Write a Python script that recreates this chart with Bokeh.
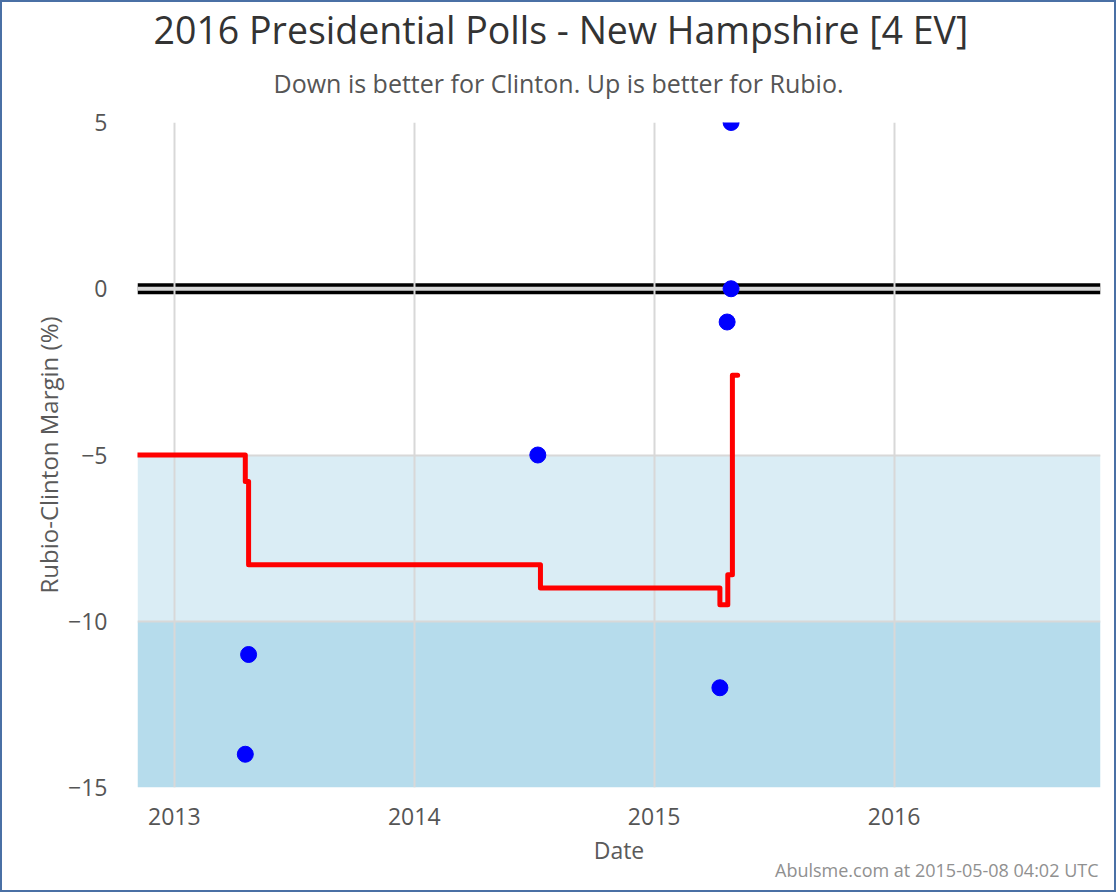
from datetime import datetime
from bokeh.plotting import figure
from bokeh.models import Range1d, FixedTicker, DatetimeTickFormatter, Span, BoxAnnotation, Title
from bokeh.embed import file_html
from bokeh.resources import INLINE

# ---- data ----
poll_dates = ["2013-04-19", "2013-04-24", "2014-07-08", "2015-04-11", "2015-04-22", "2015-04-28", "2015-04-28"]
poll_margins = [-14, -11, -5, -12, -1, 0, 5]

avg_dates = ["2012-11-06", "2013-04-19", "2013-04-24", "2014-07-12", "2015-04-11", "2015-04-23", "2015-04-30", "2015-05-08"]
avg_margins = [-5.0, -5.8, -8.3, -9.0, -9.5, -8.6, -2.6, -2.6]

x_start, x_end = "2012-11-06", "2016-11-10"
year_ticks = [2013, 2014, 2015, 2016]
y_ticks = [-15, -10, -5, 0, 5]
band_edges = [(-10, -5, "#daedf5"), (-15, -10, "#b6dcec")]

title_text = "2016 Presidential Polls - New Hampshire [4 EV]"
subtitle_text = "Down is better for Clinton. Up is better for Rubio."
footer_text = "Abulsme.com at 2015-05-08 04:02 UTC"


def d(s):
    return datetime.strptime(s, "%Y-%m-%d")


FONT = "Open Sans"

p = figure(width=1116, height=892, x_axis_type="datetime",
           x_range=Range1d(d(x_start), d(x_end)), y_range=Range1d(-15, 5),
           output_backend="svg", toolbar_location=None,
           min_border_left=135, min_border_right=18, min_border_top=120, min_border_bottom=107,
           background_fill_color="white", border_fill_color="white", outline_line_color=None,
           styles={"border": "2px solid #4a70a5"})

for lo, hi, col in band_edges:
    p.add_layout(BoxAnnotation(bottom=lo, top=hi, fill_color=col, fill_alpha=1.0,
                               line_color=None, level="image"))
p.add_layout(Span(location=0, dimension="width", line_color="black", line_width=11, level="image"))
p.add_layout(Span(location=0, dimension="width", line_color="#d6d6d6", line_width=4, level="image"))

xt = [d(f"{y}-01-01").timestamp() * 1000 for y in year_ticks]
p.xaxis.ticker = FixedTicker(ticks=xt)
p.xgrid.ticker = FixedTicker(ticks=xt)
p.xaxis.formatter = DatetimeTickFormatter(years="%Y", months="%Y", days="%Y", hours="%Y")
p.yaxis.ticker = FixedTicker(ticks=y_ticks)
p.ygrid.ticker = FixedTicker(ticks=y_ticks)
p.yaxis.major_label_overrides = {t: str(t).replace("-", "\u2212") for t in y_ticks}

for g in (p.xgrid, p.ygrid):
    g.grid_line_color = "#d8d8d8"
    g.grid_line_width = 2

for ax in (p.xaxis, p.yaxis):
    ax.axis_line_color = None
    ax.major_tick_line_color = None
    ax.minor_tick_line_color = None
    ax.major_tick_in = 0
    ax.major_tick_out = 0
    ax.major_label_text_font = FONT
    ax.major_label_text_font_size = "23px"
    ax.major_label_text_color = "#555555"
    ax.axis_label_text_font = FONT
    ax.axis_label_text_font_style = "normal"
    ax.axis_label_text_color = "#5a5a5a"

p.xaxis.axis_label = "Date"
p.xaxis.axis_label_text_font_size = "23px"
p.xaxis.major_label_standoff = 20
p.xaxis.axis_label_standoff = 6
p.yaxis.axis_label = "Rubio-Clinton Margin (%)"
p.yaxis.axis_label_text_font_size = "24px"
p.yaxis.major_label_standoff = 30
p.yaxis.axis_label_standoff = 0

p.step([d(s) for s in avg_dates], avg_margins, mode="after", line_color="#ff0000",
       line_width=5, line_cap="round", line_join="round")
p.scatter([d(s) for s in poll_dates], poll_margins, size=16, color="#0000ff")

sub = Title(text=subtitle_text, align="left", offset=136, standoff=45, text_font=FONT,
            text_font_size="25px", text_font_style="normal", text_color="#555555")
main = Title(text=title_text, align="left", offset=16, standoff=-26, text_font=FONT,
             text_font_size="37.5px", text_font_style="normal", text_color="#333333")
p.add_layout(sub, "above")
p.add_layout(main, "above")
foot = Title(text=footer_text, align="right", offset=2, standoff=-25, text_font=FONT,
             text_font_size="18px", text_font_style="normal", text_color="#909090")
p.add_layout(foot, "below")

open("out.html", "w").write(file_html(p, INLINE))
